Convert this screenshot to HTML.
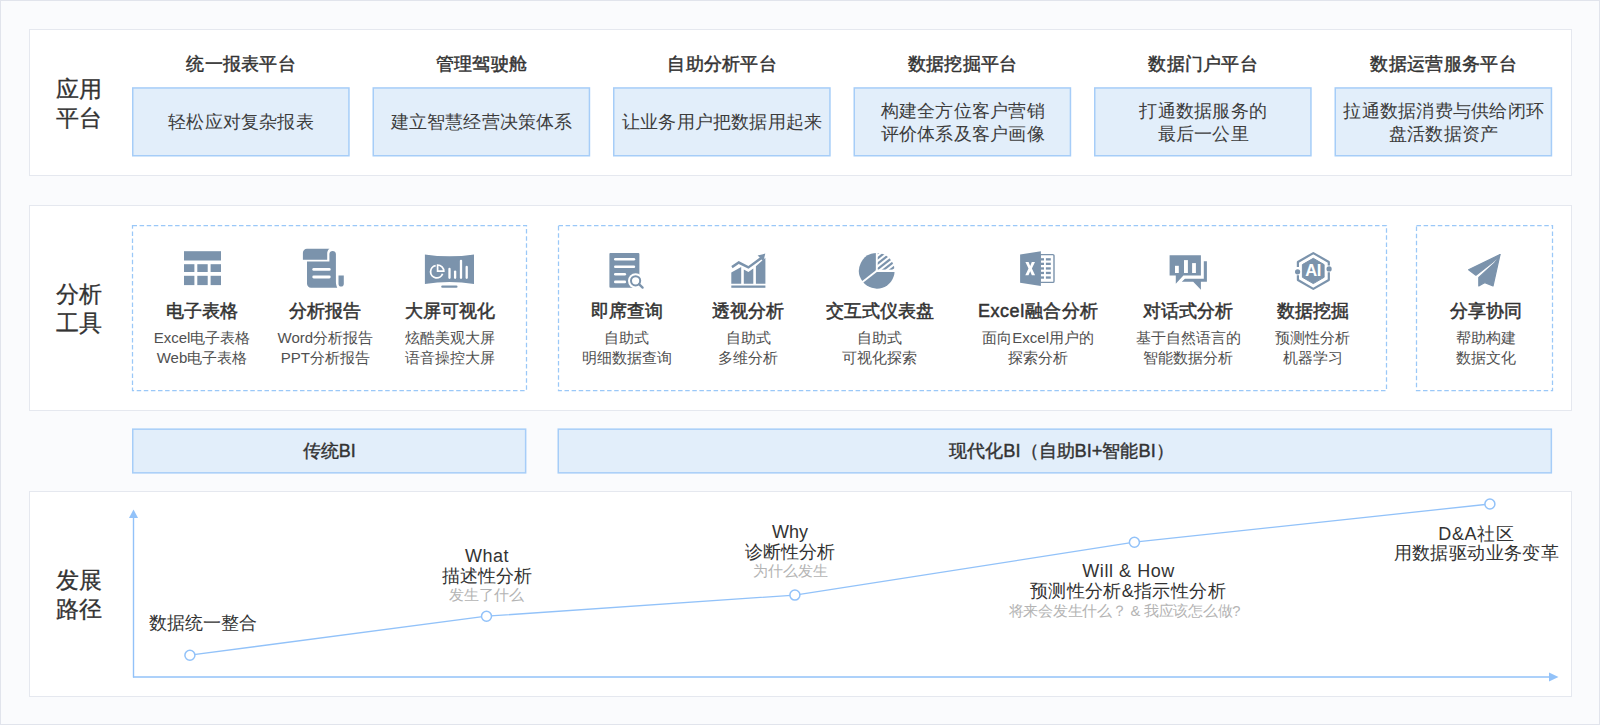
<!DOCTYPE html>
<html><head><meta charset="utf-8"><style>
html,body{margin:0;padding:0;}
body{width:1600px;height:725px;position:relative;overflow:hidden;background:#fafbfd;font-family:"Liberation Sans",sans-serif;}
.frame{position:absolute;left:0;top:0;width:1600px;height:725px;box-sizing:border-box;border:1.5px solid #e1e4ec;}
.p{position:absolute;left:29px;width:1543px;box-sizing:border-box;background:#fff;border:1px solid #e5e8ef;}
.bx{position:absolute;box-sizing:border-box;background:#e2eefa;border:2px solid #b0d3fb;}
.t{position:absolute;white-space:nowrap;text-align:center;}
svg{position:absolute;left:0;top:0;}
</style></head><body>
<div class="frame"></div>
<div class="p" style="top:29px;height:147px"></div>
<div class="p" style="top:205px;height:205.5px"></div>
<div class="p" style="top:491px;height:205.5px"></div>
<svg width="1600" height="725" viewBox="0 0 1600 725">
<rect x="132.75" y="87.95" width="216.2" height="67.8" fill="#e2eefa" stroke="#a6cdf8" stroke-width="1.5"/><rect x="373.25" y="87.95" width="216.2" height="67.8" fill="#e2eefa" stroke="#a6cdf8" stroke-width="1.5"/><rect x="613.75" y="87.95" width="216.2" height="67.8" fill="#e2eefa" stroke="#a6cdf8" stroke-width="1.5"/><rect x="854.25" y="87.95" width="216.2" height="67.8" fill="#e2eefa" stroke="#a6cdf8" stroke-width="1.5"/><rect x="1094.75" y="87.95" width="216.2" height="67.8" fill="#e2eefa" stroke="#a6cdf8" stroke-width="1.5"/><rect x="1335.25" y="87.95" width="216.2" height="67.8" fill="#e2eefa" stroke="#a6cdf8" stroke-width="1.5"/><rect x="132.75" y="429.15" width="392.9" height="43.7" fill="#e2eefa" stroke="#a6cdf8" stroke-width="1.5"/><rect x="558.25" y="429.15" width="993.1" height="43.7" fill="#e2eefa" stroke="#a6cdf8" stroke-width="1.5"/>
<rect x="132.5" y="225.5" width="394.0" height="165" fill="none" stroke="#9ac8f8" stroke-width="1.25" stroke-dasharray="4.5 2.6"/><rect x="558.5" y="225.5" width="828.0" height="165" fill="none" stroke="#9ac8f8" stroke-width="1.25" stroke-dasharray="4.5 2.6"/><rect x="1416.5" y="225.5" width="136.0" height="165" fill="none" stroke="#9ac8f8" stroke-width="1.25" stroke-dasharray="4.5 2.6"/><line x1="133.5" y1="517" x2="133.5" y2="677.5" stroke="#92c2f9" stroke-width="1.4"/><polygon points="133.5,509.5 129,518 138,518" fill="#92c2f9"/><line x1="133" y1="677" x2="1550" y2="677" stroke="#92c2f9" stroke-width="1.4"/><polygon points="1558.5,677 1549,672.5 1549,681.5" fill="#92c2f9"/><polyline points="189.9,655.2 486.5,616.2 794.9,595.1 1134.4,542.2 1489.9,504" fill="none" stroke="#92c2f9" stroke-width="1.3"/><circle cx="189.9" cy="655.2" r="5" fill="#fff" stroke="#92c2f9" stroke-width="1.5"/><circle cx="486.5" cy="616.2" r="5" fill="#fff" stroke="#92c2f9" stroke-width="1.5"/><circle cx="794.9" cy="595.1" r="5" fill="#fff" stroke="#92c2f9" stroke-width="1.5"/><circle cx="1134.4" cy="542.2" r="5" fill="#fff" stroke="#92c2f9" stroke-width="1.5"/><circle cx="1489.9" cy="504" r="5" fill="#fff" stroke="#92c2f9" stroke-width="1.5"/><g fill="#7b93ac"><rect x="184" y="251.2" width="37" height="9.3"/><rect x="184.0" y="264.2" width="10.4" height="7.8"/><rect x="184.0" y="275.8" width="10.4" height="9.3"/><rect x="197.3" y="264.2" width="10.4" height="7.8"/><rect x="197.3" y="275.8" width="10.4" height="9.3"/><rect x="210.6" y="264.2" width="10.4" height="7.8"/><rect x="210.6" y="275.8" width="10.4" height="9.3"/></g><g transform="translate(290,240)" fill="#7b93ac"><path d="M17 8.7 H39.5 C37.5 10 37.2 12 37.2 14 V19.7 H12.9 V12.7 C12.9 10.5 14.7 8.7 17 8.7 Z"/><path d="M39.4 14 C39.4 12.2 40.9 11 42.6 11 C44.4 11 45.9 12.2 45.9 14 V42 C45.9 44 46.5 46 47.3 47.8 H21 C18.8 47.8 17 46 17 43.8 V21.6 H39.4 Z"/><path d="M48.5 35.6 H53.8 V43.9 C53.8 45.4 52.6 46.6 51.1 46.6 C49.7 46.6 48.5 45.4 48.5 43.9 Z"/></g><g transform="translate(290,240)" stroke="#fff" stroke-width="2.8" stroke-linecap="round"><line x1="23.7" y1="29.4" x2="39.3" y2="29.4"/><line x1="23.7" y1="37" x2="39.3" y2="37"/></g><g transform="translate(415,240)"><path d="M9.9 14.4 Q34.5 18.2 59 14.4 V44 Q34.5 40.2 9.9 44 Z" fill="#7b93ac"/><rect x="26.2" y="45.5" width="16.3" height="2.3" rx="1.1" fill="#7b93ac"/><path d="M20.7 25.6 A6.2 6.2 0 1 0 27.6 33.8" fill="none" stroke="#fff" stroke-width="1.8"/><path d="M22.6 31.2 V25 A6.2 6.2 0 0 1 28.8 31.2 Z" fill="none" stroke="#fff" stroke-width="1.7"/><g stroke="#fff" stroke-width="2.3" stroke-linecap="round"><line x1="34.5" y1="29" x2="34.5" y2="37.8"/><line x1="40.1" y1="31.6" x2="40.1" y2="37.8"/><line x1="46" y1="20.8" x2="46" y2="37.8"/><line x1="51.7" y1="26.9" x2="51.7" y2="37.8"/></g></g><g transform="translate(595,240)"><rect x="14.4" y="12.9" width="30" height="34.9" rx="1" fill="#7b93ac"/><g stroke="#fff" stroke-width="2.6" stroke-linecap="round"><line x1="20.3" y1="19.3" x2="38.9" y2="19.3"/><line x1="20.3" y1="26.7" x2="38.9" y2="26.7"/><line x1="20.3" y1="34.3" x2="29.8" y2="34.3"/><line x1="20.3" y1="41.9" x2="29.8" y2="41.9"/></g><circle cx="40.6" cy="40.8" r="7.6" fill="#fff"/><line x1="44.6" y1="44.8" x2="49.5" y2="49.5" stroke="#fff" stroke-width="5" stroke-linecap="round"/><circle cx="40.6" cy="40.8" r="4.6" fill="none" stroke="#7b93ac" stroke-width="2"/><line x1="44" y1="44.2" x2="47.6" y2="47.6" stroke="#7b93ac" stroke-width="2.3" stroke-linecap="round"/></g><g transform="translate(715,240)" fill="#7b93ac"><rect x="16.3" y="45.5" width="34.1" height="2.3"/><path d="M16.3 32.6 L26.2 26.9 V43.8 H16.3 Z"/><path d="M28.8 29.6 L33.4 31.9 L38.3 28.4 V43.8 H28.8 Z"/><path d="M40.9 26.2 L50.4 17.8 V43.8 H40.9 Z"/><path d="M16.3 26 L23.7 20.9 L33.4 25.9 L44.8 17.6 L42.6 15.6 L50.3 13.6 L48.4 21.3 L46.4 19.5 L33.5 28.8 L23.7 23.9 L17.6 28.2 Z"/></g><g transform="translate(845,240)"><defs><clipPath id="pq"><path d="M31.8 30.8 V13.0 A17.8 17.8 0 0 1 49.6 30.8 Z"/></clipPath></defs><path d="M31.8 30.8 V13.0 A17.8 17.8 0 0 0 17.77 41.76 Z" fill="#7b93ac"/><path d="M31.8 30.8 H49.6 A17.8 17.8 0 0 1 17.77 41.76 Z" fill="#7b93ac"/><g clip-path="url(#pq)" stroke="#7b93ac" stroke-width="2.2"><line x1="9.06" y1="63.67" x2="56.34" y2="26.73"/><line x1="9.06" y1="58.27" x2="56.34" y2="21.33"/><line x1="9.06" y1="52.87" x2="56.34" y2="15.93"/><line x1="9.06" y1="47.47" x2="56.34" y2="10.53"/><line x1="9.06" y1="42.07" x2="56.34" y2="5.13"/><line x1="9.06" y1="36.67" x2="56.34" y2="-0.27"/><line x1="9.06" y1="31.27" x2="56.34" y2="-5.67"/><line x1="9.06" y1="25.87" x2="56.34" y2="-11.07"/><line x1="9.06" y1="20.47" x2="56.34" y2="-16.47"/></g><g stroke="#fff"><line x1="31.8" y1="30.8" x2="31.8" y2="12.0" stroke-width="1.9"/><line x1="30.8" y1="30.8" x2="50.6" y2="30.8" stroke-width="2.4"/><line x1="32.8" y1="30.0" x2="16.20" y2="42.99" stroke-width="1.9"/></g></g><g transform="translate(1000,240)"><rect x="40" y="14.6" width="14" height="27.8" rx="1.2" fill="none" stroke="#7b93ac" stroke-width="1.4"/><g fill="#7b93ac"><rect x="40.9" y="18.2" width="3.1" height="2.3"/><rect x="40.9" y="22.7" width="3.1" height="2.3"/><rect x="40.9" y="27.3" width="3.1" height="2.3"/><rect x="40.9" y="31.8" width="3.1" height="2.3"/><rect x="40.9" y="36.4" width="3.1" height="2.3"/><rect x="45.9" y="18.2" width="4.9" height="2.3"/><rect x="45.9" y="22.7" width="4.9" height="2.3"/><rect x="45.9" y="27.3" width="4.9" height="2.3"/><rect x="45.9" y="31.8" width="4.9" height="2.3"/><rect x="45.9" y="36.4" width="4.9" height="2.3"/></g><path d="M20.1 14.4 L40.9 11.2 V45.9 L20.1 42.8 Z" fill="#7b93ac"/><path d="M25.4 22 H28.6 L30.2 25.9 L31.8 22 H35 L31.9 28.6 L35.1 35.3 H31.8 L30.2 31.3 L28.5 35.3 H25.3 L28.5 28.6 Z" fill="#fff"/></g><g transform="translate(1150,240)" fill="#7b93ac"><path d="M19.6 15.2 H50.9 V35.6 H33.4 L25.8 43.8 V35.6 H19.6 Z"/><path d="M53.8 21.2 H56.9 V41.7 H50.9 V49.7 L43.2 41.7 H31.8 L34.9 38.7 H53.8 Z"/></g><g transform="translate(1150,240)" fill="#fff"><rect x="25" y="25.8" width="3.8" height="7.2"/><rect x="34" y="20.1" width="3.9" height="12.9"/><rect x="42.1" y="23.1" width="3.8" height="9.9"/></g><g transform="translate(1278,240)"><path d="M19.9 27 V22 L35.3 13.1 L50.8 22 V25.6 M50.8 32.2 V40 L35.3 48.9 L19.9 40 V35.2" fill="none" stroke="#7b93ac" stroke-width="2.2" stroke-linejoin="round"/><circle cx="19.6" cy="31.8" r="2.6" fill="#7b93ac"/><circle cx="51.1" cy="28.9" r="2.6" fill="#7b93ac"/><path d="M35.3 18.3 L46.1 24.6 V37.3 L35.3 43.6 L24.4 37.3 V24.6 Z" fill="#7b93ac" stroke="#7b93ac" stroke-width="1" stroke-linejoin="round"/><text x="35.1" y="36" text-anchor="middle" font-family="Liberation Sans" font-weight="bold" font-size="16.5" fill="#fff" letter-spacing="-0.3">AI</text></g><g transform="translate(1450,240)" fill="#7b93ac" stroke="#7b93ac" stroke-width="1.2" stroke-linejoin="round"><path d="M50 14.6 L18.6 29.8 L25.9 35.2 L43.5 21.6 Z"/><path d="M50 14.6 L44.6 23 L28.8 37.4 V46 L34.9 42.6 L43 46 Z"/></g>
</svg>
<div class="t" style="left:-221.0px;width:600px;top:79.2px;font-size:22.6px;line-height:22.6px;font-weight:400;color:#333333;-webkit-text-stroke:0.3px #333333;">应用</div><div class="t" style="left:-221.0px;width:600px;top:108.2px;font-size:22.6px;line-height:22.6px;font-weight:400;color:#333333;-webkit-text-stroke:0.3px #333333;">平台</div><div class="t" style="left:-59.0px;width:600px;top:55.1px;font-size:18.3px;line-height:18.3px;font-weight:400;color:#333333;letter-spacing:0.3px;-webkit-text-stroke:0.45px #333333;text-indent:0.3px;">统一报表平台</div><div class="t" style="left:-59.0px;width:600px;top:112.5px;font-size:18px;line-height:18px;font-weight:400;color:#3c3c3c;letter-spacing:0.2px;text-indent:0.2px;">轻松应对复杂报表</div><div class="t" style="left:181.5px;width:600px;top:55.1px;font-size:18.3px;line-height:18.3px;font-weight:400;color:#333333;letter-spacing:0.3px;-webkit-text-stroke:0.45px #333333;text-indent:0.3px;">管理驾驶舱</div><div class="t" style="left:181.5px;width:600px;top:112.5px;font-size:18px;line-height:18px;font-weight:400;color:#3c3c3c;letter-spacing:0.2px;text-indent:0.2px;">建立智慧经营决策体系</div><div class="t" style="left:422.0px;width:600px;top:55.1px;font-size:18.3px;line-height:18.3px;font-weight:400;color:#333333;letter-spacing:0.3px;-webkit-text-stroke:0.45px #333333;text-indent:0.3px;">自助分析平台</div><div class="t" style="left:422.0px;width:600px;top:112.5px;font-size:18px;line-height:18px;font-weight:400;color:#3c3c3c;letter-spacing:0.2px;text-indent:0.2px;">让业务用户把数据用起来</div><div class="t" style="left:662.5px;width:600px;top:55.1px;font-size:18.3px;line-height:18.3px;font-weight:400;color:#333333;letter-spacing:0.3px;-webkit-text-stroke:0.45px #333333;text-indent:0.3px;">数据挖掘平台</div><div class="t" style="left:662.5px;width:600px;top:101.5px;font-size:18px;line-height:18px;font-weight:400;color:#3c3c3c;letter-spacing:0.25px;text-indent:0.25px;">构建全方位客户营销</div><div class="t" style="left:662.5px;width:600px;top:124.5px;font-size:18px;line-height:18px;font-weight:400;color:#3c3c3c;letter-spacing:0.25px;text-indent:0.25px;">评价体系及客户画像</div><div class="t" style="left:903.0px;width:600px;top:55.1px;font-size:18.3px;line-height:18.3px;font-weight:400;color:#333333;letter-spacing:0.3px;-webkit-text-stroke:0.45px #333333;text-indent:0.3px;">数据门户平台</div><div class="t" style="left:903.0px;width:600px;top:101.5px;font-size:18px;line-height:18px;font-weight:400;color:#3c3c3c;letter-spacing:0.25px;text-indent:0.25px;">打通数据服务的</div><div class="t" style="left:903.0px;width:600px;top:124.5px;font-size:18px;line-height:18px;font-weight:400;color:#3c3c3c;letter-spacing:0.25px;text-indent:0.25px;">最后一公里</div><div class="t" style="left:1143.5px;width:600px;top:55.1px;font-size:18.3px;line-height:18.3px;font-weight:400;color:#333333;letter-spacing:0.3px;-webkit-text-stroke:0.45px #333333;text-indent:0.3px;">数据运营服务平台</div><div class="t" style="left:1143.5px;width:600px;top:101.5px;font-size:18px;line-height:18px;font-weight:400;color:#3c3c3c;letter-spacing:0.25px;text-indent:0.25px;">拉通数据消费与供给闭环</div><div class="t" style="left:1143.5px;width:600px;top:124.5px;font-size:18px;line-height:18px;font-weight:400;color:#3c3c3c;letter-spacing:0.25px;text-indent:0.25px;">盘活数据资产</div><div class="t" style="left:-221.0px;width:600px;top:283.7px;font-size:22.6px;line-height:22.6px;font-weight:400;color:#333333;-webkit-text-stroke:0.3px #333333;">分析</div><div class="t" style="left:-221.0px;width:600px;top:313.2px;font-size:22.6px;line-height:22.6px;font-weight:400;color:#333333;-webkit-text-stroke:0.3px #333333;">工具</div><div class="t" style="left:-98.0px;width:600px;top:302.4px;font-size:18px;line-height:18px;font-weight:400;color:#333333;-webkit-text-stroke:0.5px #333333;">电子表格</div><div class="t" style="left:-98.0px;width:600px;top:329.7px;font-size:15px;line-height:15px;font-weight:400;color:#505050;">Excel电子表格</div><div class="t" style="left:-98.0px;width:600px;top:349.5px;font-size:15px;line-height:15px;font-weight:400;color:#505050;">Web电子表格</div><div class="t" style="left:25.4px;width:600px;top:302.4px;font-size:18px;line-height:18px;font-weight:400;color:#333333;-webkit-text-stroke:0.5px #333333;">分析报告</div><div class="t" style="left:25.4px;width:600px;top:329.7px;font-size:15px;line-height:15px;font-weight:400;color:#505050;">Word分析报告</div><div class="t" style="left:25.4px;width:600px;top:349.5px;font-size:15px;line-height:15px;font-weight:400;color:#505050;">PPT分析报告</div><div class="t" style="left:150.1px;width:600px;top:302.4px;font-size:18px;line-height:18px;font-weight:400;color:#333333;-webkit-text-stroke:0.5px #333333;">大屏可视化</div><div class="t" style="left:150.1px;width:600px;top:329.7px;font-size:15px;line-height:15px;font-weight:400;color:#505050;">炫酷美观大屏</div><div class="t" style="left:150.1px;width:600px;top:349.5px;font-size:15px;line-height:15px;font-weight:400;color:#505050;">语音操控大屏</div><div class="t" style="left:326.5px;width:600px;top:302.4px;font-size:18px;line-height:18px;font-weight:400;color:#333333;-webkit-text-stroke:0.5px #333333;">即席查询</div><div class="t" style="left:326.5px;width:600px;top:329.7px;font-size:15px;line-height:15px;font-weight:400;color:#505050;">自助式</div><div class="t" style="left:326.5px;width:600px;top:349.5px;font-size:15px;line-height:15px;font-weight:400;color:#505050;">明细数据查询</div><div class="t" style="left:448.0px;width:600px;top:302.4px;font-size:18px;line-height:18px;font-weight:400;color:#333333;-webkit-text-stroke:0.5px #333333;">透视分析</div><div class="t" style="left:448.0px;width:600px;top:329.7px;font-size:15px;line-height:15px;font-weight:400;color:#505050;">自助式</div><div class="t" style="left:448.0px;width:600px;top:349.5px;font-size:15px;line-height:15px;font-weight:400;color:#505050;">多维分析</div><div class="t" style="left:579.9px;width:600px;top:302.4px;font-size:18px;line-height:18px;font-weight:400;color:#333333;-webkit-text-stroke:0.5px #333333;">交互式仪表盘</div><div class="t" style="left:579.9px;width:600px;top:329.7px;font-size:15px;line-height:15px;font-weight:400;color:#505050;">自助式</div><div class="t" style="left:579.9px;width:600px;top:349.5px;font-size:15px;line-height:15px;font-weight:400;color:#505050;">可视化探索</div><div class="t" style="left:738.2px;width:600px;top:302.4px;font-size:18px;line-height:18px;font-weight:400;color:#333333;letter-spacing:0.55px;-webkit-text-stroke:0.5px #333333;text-indent:0.55px;">Excel融合分析</div><div class="t" style="left:738.2px;width:600px;top:329.7px;font-size:15px;line-height:15px;font-weight:400;color:#505050;">面向Excel用户的</div><div class="t" style="left:738.2px;width:600px;top:349.5px;font-size:15px;line-height:15px;font-weight:400;color:#505050;">探索分析</div><div class="t" style="left:888.0px;width:600px;top:302.4px;font-size:18px;line-height:18px;font-weight:400;color:#333333;-webkit-text-stroke:0.5px #333333;">对话式分析</div><div class="t" style="left:888.0px;width:600px;top:329.7px;font-size:15px;line-height:15px;font-weight:400;color:#505050;">基于自然语言的</div><div class="t" style="left:888.0px;width:600px;top:349.5px;font-size:15px;line-height:15px;font-weight:400;color:#505050;">智能数据分析</div><div class="t" style="left:1012.6px;width:600px;top:302.4px;font-size:18px;line-height:18px;font-weight:400;color:#333333;-webkit-text-stroke:0.5px #333333;">数据挖掘</div><div class="t" style="left:1012.6px;width:600px;top:329.7px;font-size:15px;line-height:15px;font-weight:400;color:#505050;">预测性分析</div><div class="t" style="left:1012.6px;width:600px;top:349.5px;font-size:15px;line-height:15px;font-weight:400;color:#505050;">机器学习</div><div class="t" style="left:1185.5px;width:600px;top:302.4px;font-size:18px;line-height:18px;font-weight:400;color:#333333;-webkit-text-stroke:0.5px #333333;">分享协同</div><div class="t" style="left:1185.5px;width:600px;top:329.7px;font-size:15px;line-height:15px;font-weight:400;color:#505050;">帮助构建</div><div class="t" style="left:1185.5px;width:600px;top:349.5px;font-size:15px;line-height:15px;font-weight:400;color:#505050;">数据文化</div><div class="t" style="left:29.3px;width:600px;top:442.0px;font-size:18px;line-height:18px;font-weight:400;color:#333333;-webkit-text-stroke:0.4px #333333;">传统BI</div><div class="t" style="left:761.5px;width:600px;top:441.5px;font-size:18.3px;line-height:18.3px;font-weight:400;color:#333333;-webkit-text-stroke:0.4px #333333;">现代化BI（自助BI+智能BI）</div><div class="t" style="left:-221.0px;width:600px;top:570.0px;font-size:22.6px;line-height:22.6px;font-weight:400;color:#333333;-webkit-text-stroke:0.3px #333333;">发展</div><div class="t" style="left:-221.0px;width:600px;top:599.0px;font-size:22.6px;line-height:22.6px;font-weight:400;color:#333333;-webkit-text-stroke:0.3px #333333;">路径</div><div class="t" style="left:148.5px;text-align:left;top:614.0px;font-size:18px;line-height:18px;font-weight:400;color:#333333;">数据统一整合</div><div class="t" style="left:186.7px;width:600px;top:546.5px;font-size:18px;line-height:18px;font-weight:400;color:#333333;letter-spacing:0.5px;text-indent:0.5px;">What</div><div class="t" style="left:186.5px;width:600px;top:566.5px;font-size:18px;line-height:18px;font-weight:400;color:#333333;">描述性分析</div><div class="t" style="left:186.5px;width:600px;top:588.4px;font-size:14.7px;line-height:14.7px;font-weight:400;color:#b4b4b4;">发生了什么</div><div class="t" style="left:490.0px;width:600px;top:523.0px;font-size:18px;line-height:18px;font-weight:400;color:#333333;">Why</div><div class="t" style="left:490.0px;width:600px;top:543.0px;font-size:18px;line-height:18px;font-weight:400;color:#333333;">诊断性分析</div><div class="t" style="left:490.0px;width:600px;top:564.4px;font-size:14.7px;line-height:14.7px;font-weight:400;color:#b4b4b4;">为什么发生</div><div class="t" style="left:828.3px;width:600px;top:561.5px;font-size:18px;line-height:18px;font-weight:400;color:#333333;letter-spacing:0.55px;text-indent:0.55px;">Will &amp; How</div><div class="t" style="left:827.8px;width:600px;top:581.5px;font-size:18px;line-height:18px;font-weight:400;color:#333333;letter-spacing:0.35px;text-indent:0.35px;">预测性分析&amp;指示性分析</div><div class="t" style="left:824.6px;width:600px;top:604.2px;font-size:14.7px;line-height:14.7px;font-weight:400;color:#b4b4b4;letter-spacing:-0.25px;text-indent:-0.25px;">将来会发生什么？ &amp; 我应该怎么做?</div><div class="t" style="left:1176.0px;width:600px;top:525.0px;font-size:18px;line-height:18px;font-weight:400;color:#333333;letter-spacing:0.6px;text-indent:0.6px;">D&amp;A社区</div><div class="t" style="left:1176.2px;width:600px;top:544.0px;font-size:18px;line-height:18px;font-weight:400;color:#333333;letter-spacing:0.35px;text-indent:0.35px;">用数据驱动业务变革</div>
</body></html>
